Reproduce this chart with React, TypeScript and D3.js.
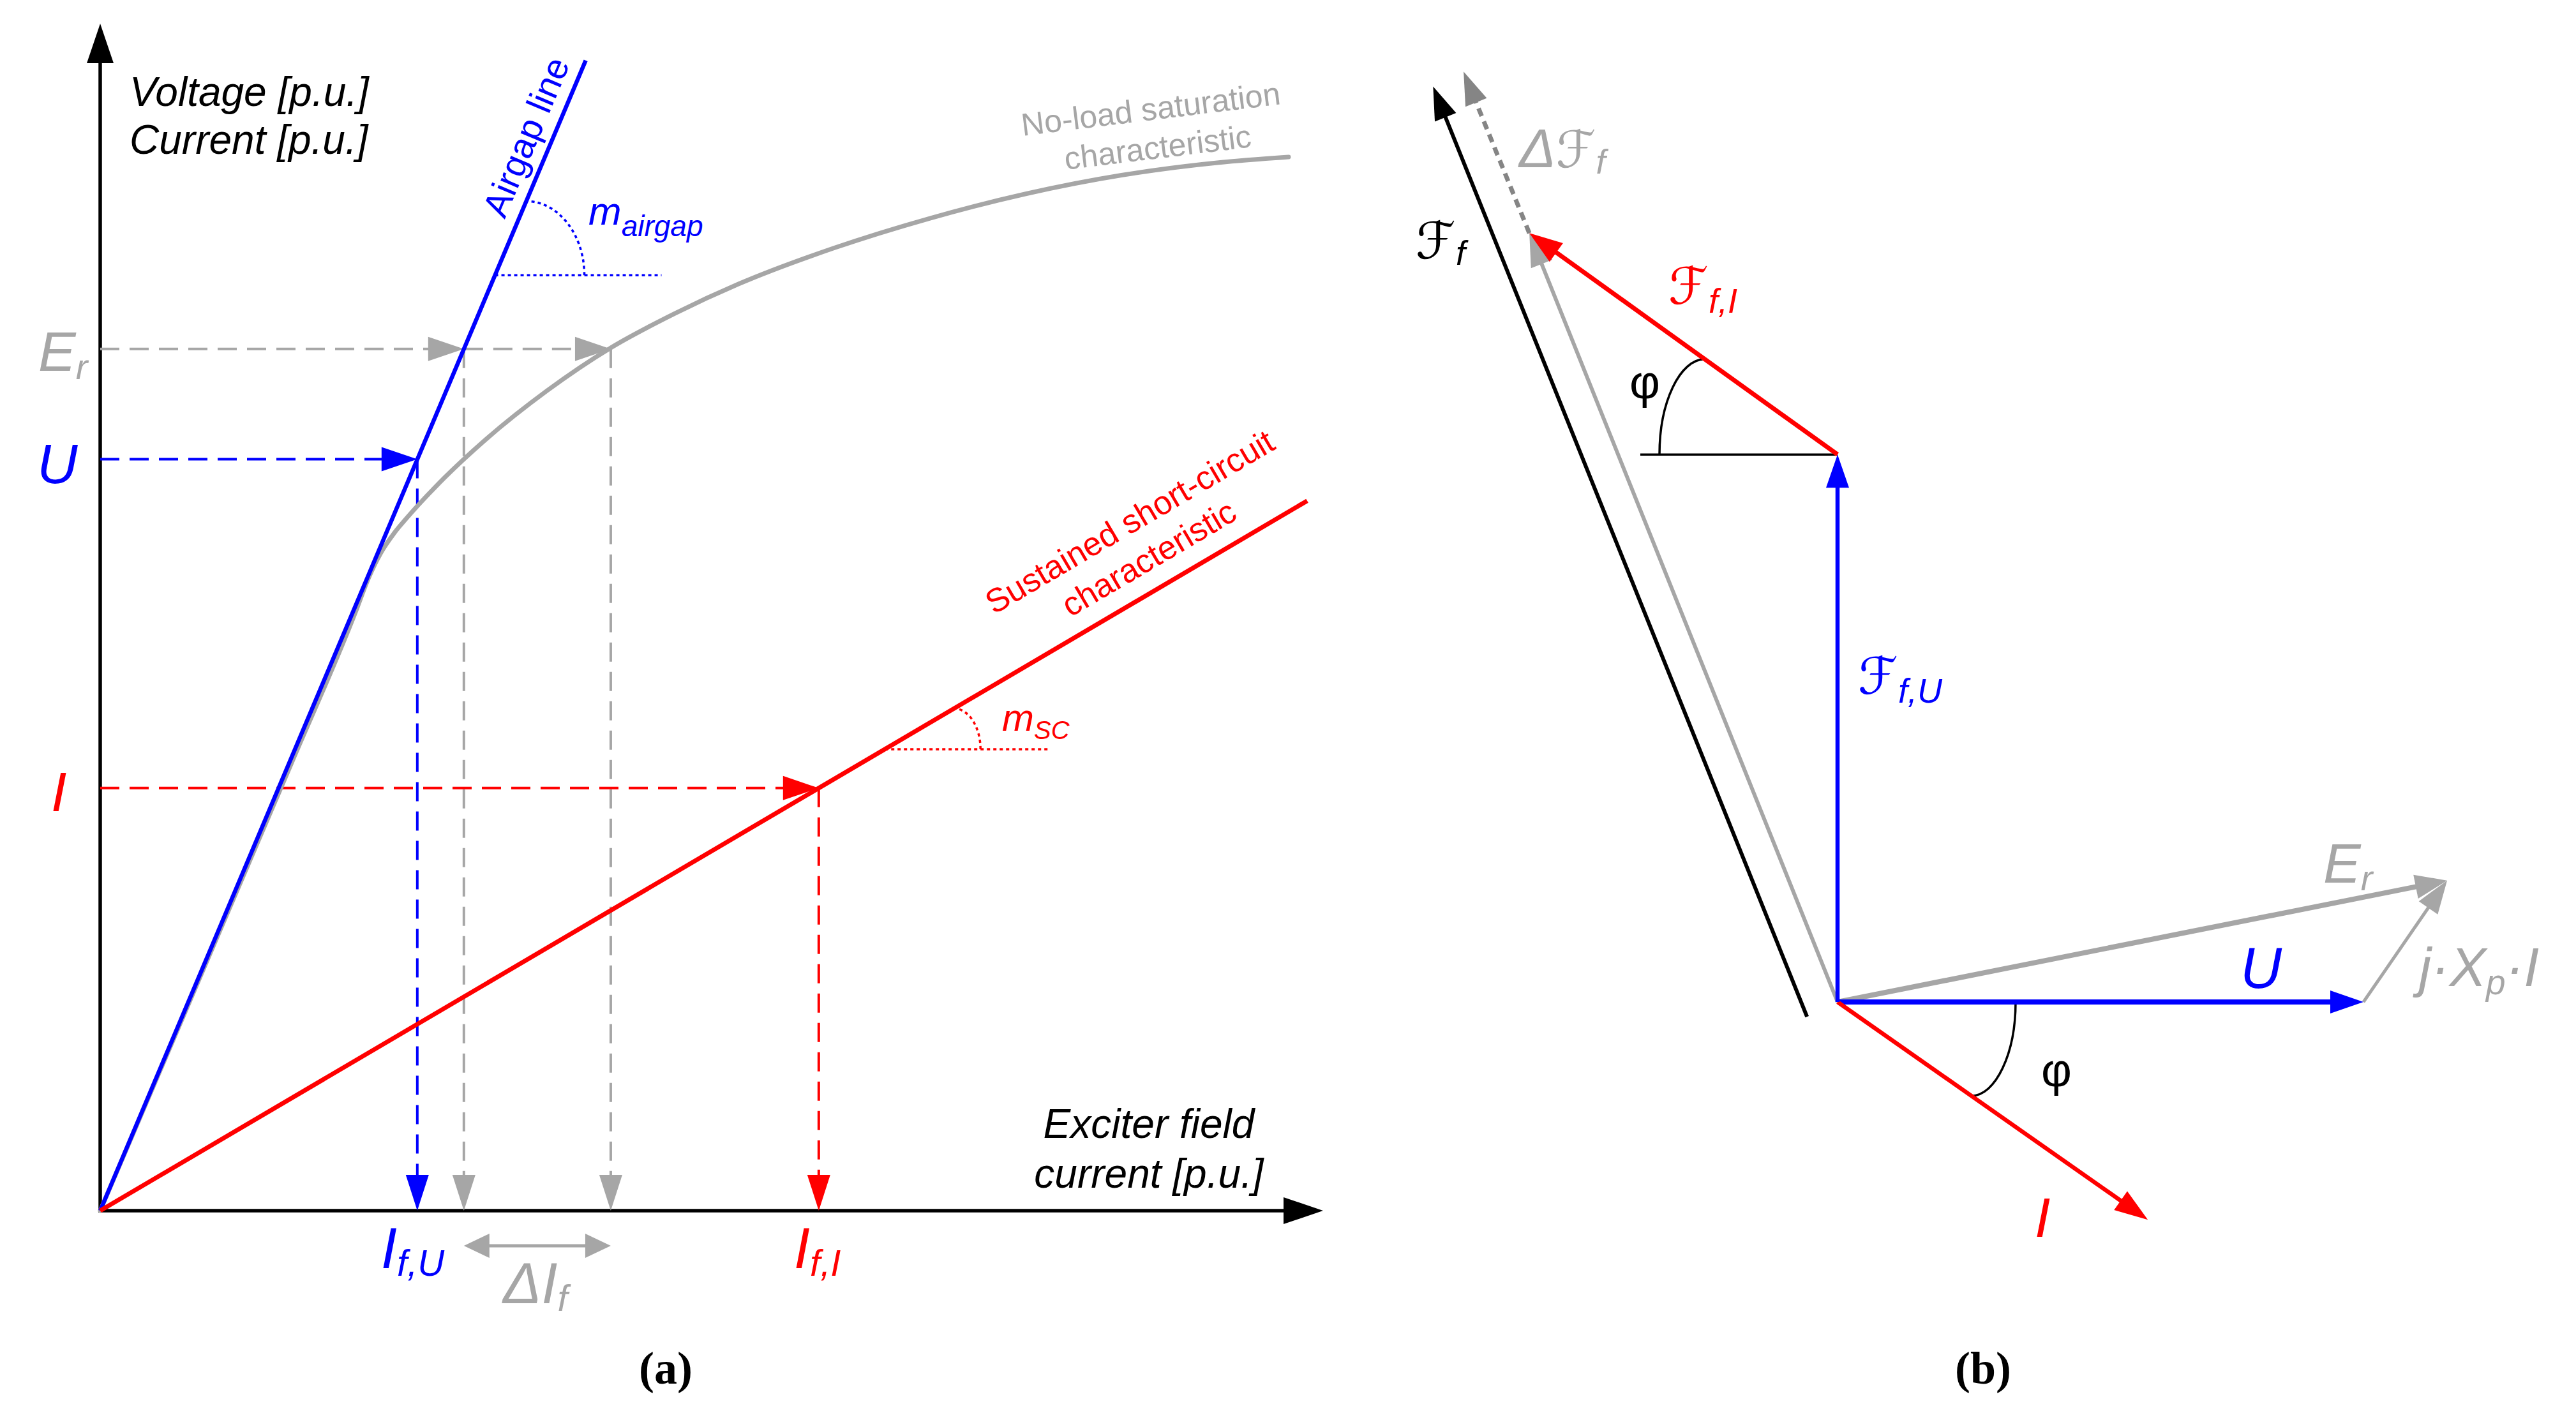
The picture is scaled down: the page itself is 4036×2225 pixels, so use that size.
import React, { useEffect } from "react";
import * as d3 from "d3";

const W = 4036;
const H = 2225;

// ---------------- Panel (a): characteristics (normalized per-unit axes) ----------------
const airgapLine: [number, number][] = [[0, 0], [0.397, 0.969]];
const shortCircuitLine: [number, number][] = [[0, 0], [0.987, 0.598]];
const noLoadCurve: [number, number][] = [
  [0, 0], [0.1566, 0.3774], [0.2088, 0.5043], [0.2192, 0.5323], [0.2296, 0.5543],
  [0.2401, 0.5704], [0.2505, 0.5833], [0.2818, 0.6177], [0.3132, 0.6478],
  [0.3653, 0.6907], [0.4175, 0.7269], [0.4697, 0.7557], [0.5219, 0.7806],
  [0.6002, 0.811], [0.6785, 0.836], [0.7568, 0.8566], [0.8351, 0.8723],
  [0.9134, 0.8828], [0.9718, 0.8876],
];
// ordinate levels: Er, U, I
const levelNames = ["Er", "U", "I"];
const levelValues = [0.726, 0.633, 0.356];
// abscissa readings: If,U ; Er on airgap ; Er on no-load ; If,I
const fieldCurrentNames = ["IfU", "ErAirgap", "ErNoLoad", "IfI"];
const fieldCurrentValues = [0.2593, 0.2974, 0.4175, 0.5876];
// slope marks: [level y, dotted end x]
const airgapSlopeMark = [0.788, 0.459];
const scSlopeMark = [0.3887, 0.777];

// ---------------- Panel (b): phasor diagram (units of |U|) ----------------
const phasorU = [1, 0];
const phasorI = [0.59, -0.414];
const phasorJXpI = [0.159, 0.231];
const phasorEr = [1.159, 0.231];
const phasorFfU = [0, 1.041];
const phasorFfI = [-0.586, 0.421];
const phasorDeltaFf = [-0.125, 0.307];
const phasorFfOffset = [-0.058, -0.028];
const refLineLength = [0.375];

const BLUE = "#0000FF";
const RED = "#FF0000";
const GREY = "#A6A6A6";
const DGREY = "#858585";
const FONT = "'Liberation Sans', Arial, sans-serif";
const SCRIPT = "'DejaVu Sans', sans-serif";

const xA = d3.scaleLinear().domain([0, 1]).range([157, 2073]);
const yA = d3.scaleLinear().domain([0, 1]).range([1897, 37]);
const xB = d3.scaleLinear().domain([0, 1]).range([2879, 3703]);
const yB = d3.scaleLinear().domain([0, 1]).range([1570, 746]);

function head(x1: number, y1: number, x2: number, y2: number, L: number, Wd: number) {
  const dx = x2 - x1, dy = y2 - y1;
  const len = Math.hypot(dx, dy);
  const ux = dx / len, uy = dy / len;
  const bx = x2 - ux * L, by = y2 - uy * L;
  const px = (-uy * Wd) / 2, py = (ux * Wd) / 2;
  return {
    points: `${x2},${y2} ${bx + px},${by + py} ${bx - px},${by - py}`,
    bx: bx + ux * 3,
    by: by + uy * 3,
  };
}

function Arrow(p: {
  x1: number; y1: number; x2: number; y2: number; color: string; width: number;
  L: number; Wd: number; dash?: string; headColor?: string;
}) {
  const h = head(p.x1, p.y1, p.x2, p.y2, p.L, p.Wd);
  return (
    <g>
      <line x1={p.x1} y1={p.y1} x2={h.bx} y2={h.by} stroke={p.color} strokeWidth={p.width}
        strokeDasharray={p.dash} />
      <polygon points={h.points} fill={p.headColor || p.color} />
    </g>
  );
}

function DoubleArrow(p: { x1: number; x2: number; y: number; color: string; width: number; L: number; Wd: number }) {
  const a = head(p.x2, p.y, p.x1, p.y, p.L, p.Wd);
  const b = head(p.x1, p.y, p.x2, p.y, p.L, p.Wd);
  return (
    <g>
      <line x1={a.bx} y1={p.y} x2={b.bx} y2={p.y} stroke={p.color} strokeWidth={p.width} />
      <polygon points={a.points} fill={p.color} />
      <polygon points={b.points} fill={p.color} />
    </g>
  );
}

// quarter-ellipse like angle arc: S has vertical tangent, E has horizontal tangent
function quarter(S: [number, number], E: [number, number]) {
  const k = 0.55;
  const p = d3.path();
  p.moveTo(S[0], S[1]);
  p.bezierCurveTo(S[0], S[1] + k * (E[1] - S[1]), E[0] + k * (S[0] - E[0]), E[1], E[0], E[1]);
  return p.toString();
}

function unit(dx: number, dy: number): [number, number] {
  const l = Math.hypot(dx, dy);
  return [dx / l, dy / l];
}

export default function App() {
  useEffect(() => {
    document.body.style.margin = "0";
  }, []);

  // ---------- panel a geometry ----------
  const x0 = xA(0), y0 = yA(0);
  const lineGen = d3.line<[number, number]>().x((d) => xA(d[0])).y((d) => yA(d[1]));
  const curveGen = d3.line<[number, number]>().x((d) => xA(d[0])).y((d) => yA(d[1])).curve(d3.curveMonotoneX);

  const [lvEr, lvU, lvI] = levelValues;
  const [fIfU, fErA, fErS, fIfI] = fieldCurrentValues;
  const dashA = "30 16";

  const agSlope = airgapLine[1][1] / airgapLine[1][0];
  const scSlope = shortCircuitLine[1][1] / shortCircuitLine[1][0];
  const agC: [number, number] = [xA(airgapSlopeMark[0] / agSlope), yA(airgapSlopeMark[0])];
  const agDir = unit(xA(airgapLine[1][0]) - x0, yA(airgapLine[1][1]) - y0);
  const scC: [number, number] = [xA(scSlopeMark[0] / scSlope), yA(scSlopeMark[0])];
  const scDir = unit(xA(shortCircuitLine[1][0]) - x0, yA(shortCircuitLine[1][1]) - y0);

  // ---------- panel b geometry ----------
  const O: [number, number] = [xB(0), yB(0)];
  const U: [number, number] = [xB(phasorU[0]), yB(phasorU[1])];
  const I: [number, number] = [xB(phasorI[0]), yB(phasorI[1])];
  const Er: [number, number] = [xB(phasorEr[0]), yB(phasorEr[1])];
  const JX: [number, number] = [xB(phasorU[0] + phasorJXpI[0]), yB(phasorU[1] + phasorJXpI[1])];
  const FU: [number, number] = [xB(phasorFfU[0]), yB(phasorFfU[1])];
  const FR: [number, number] = [xB(phasorFfU[0] + phasorFfI[0]), yB(phasorFfU[1] + phasorFfI[1])];
  const FT = [phasorFfU[0] + phasorFfI[0] + phasorDeltaFf[0], phasorFfU[1] + phasorFfI[1] + phasorDeltaFf[1]];
  const FTp: [number, number] = [xB(FT[0]), yB(FT[1])];
  const BS: [number, number] = [xB(phasorFfOffset[0]), yB(phasorFfOffset[1])];
  const BE: [number, number] = [xB(phasorFfOffset[0] + FT[0]), yB(phasorFfOffset[1] + FT[1])];
  const refEnd: [number, number] = [xB(-refLineLength[0]), FU[1]];

  const fiDir = unit(FR[0] - FU[0], FR[1] - FU[1]);
  const iDir = unit(I[0] - O[0], I[1] - O[1]);
  const topArc = quarter([FU[0] - 279, FU[1]], [FU[0] + fiDir[0] * 256, FU[1] + fiDir[1] * 256]);
  const botArc = quarter([O[0] + 279, O[1]], [O[0] + iDir[0] * 256, O[1] + iDir[1] * 256]);

  const Lb = 52, Wb = 36;

  return (
    <div style={{ position: "absolute", left: 0, top: 0 }}>
      <svg width={W} height={H} style={{ display: "block", background: "#fff" }} fontFamily={FONT}>
        <rect x={0} y={0} width={W} height={H} fill="#fff" />

        {/* ================= Panel (a) ================= */}
        <Arrow x1={x0} y1={y0 + 3} x2={x0} y2={yA(1)} color="#000" width={5.5} L={62} Wd={42} />
        <Arrow x1={x0 - 3} y1={y0} x2={xA(1)} y2={y0} color="#000" width={5.5} L={62} Wd={42} />

        <Arrow x1={x0} y1={yA(lvEr)} x2={xA(fErA)} y2={yA(lvEr)} color={GREY} width={4} L={56} Wd={38} dash={dashA} />
        <Arrow x1={xA(fErA)} y1={yA(lvEr)} x2={xA(fErS)} y2={yA(lvEr)} color={GREY} width={4} L={56} Wd={38} dash={dashA} />
        <Arrow x1={xA(fErA)} y1={yA(lvEr)} x2={xA(fErA)} y2={y0} color={GREY} width={4} L={56} Wd={36} dash={dashA} />
        <Arrow x1={xA(fErS)} y1={yA(lvEr)} x2={xA(fErS)} y2={y0} color={GREY} width={4} L={56} Wd={36} dash={dashA} />
        <Arrow x1={x0} y1={yA(lvU)} x2={xA(fIfU)} y2={yA(lvU)} color={BLUE} width={4} L={56} Wd={38} dash={dashA} />
        <Arrow x1={xA(fIfU)} y1={yA(lvU)} x2={xA(fIfU)} y2={y0} color={BLUE} width={4} L={56} Wd={36} dash={dashA} />
        <Arrow x1={x0} y1={yA(lvI)} x2={xA(fIfI)} y2={yA(lvI)} color={RED} width={4} L={56} Wd={38} dash={dashA} />
        <Arrow x1={xA(fIfI)} y1={yA(lvI)} x2={xA(fIfI)} y2={y0} color={RED} width={4} L={56} Wd={36} dash={dashA} />

        <path d={curveGen(noLoadCurve) || ""} fill="none" stroke={GREY} strokeWidth={7} strokeLinecap="round" />
        <path d={lineGen(airgapLine) || ""} fill="none" stroke={BLUE} strokeWidth={6.5} />
        <path d={lineGen(shortCircuitLine) || ""} fill="none" stroke={RED} strokeWidth={7} />

        <line x1={agC[0]} y1={agC[1]} x2={xA(airgapSlopeMark[1])} y2={agC[1]} stroke={BLUE} strokeWidth={3.5} strokeDasharray="5 5" />
        <path d={quarter([agC[0] + 140, agC[1]], [agC[0] + agDir[0] * 126, agC[1] + agDir[1] * 126])} fill="none" stroke={BLUE} strokeWidth={3.5} strokeDasharray="5 5" />
        <line x1={scC[0]} y1={scC[1]} x2={xA(scSlopeMark[1])} y2={scC[1]} stroke={RED} strokeWidth={3.5} strokeDasharray="5 5" />
        <path d={quarter([scC[0] + 150, scC[1]], [scC[0] + scDir[0] * 126, scC[1] + scDir[1] * 126])} fill="none" stroke={RED} strokeWidth={3.5} strokeDasharray="5 5" />

        <DoubleArrow x1={xA(fErA)} x2={xA(fErS)} y={1952} color={GREY} width={5} L={40} Wd={38} />

        <text x={203} y={166} fontSize={64} fontStyle="italic" fill="#000">Voltage [p.u.]</text>
        <text x={203} y={241} fontSize={64} fontStyle="italic" fill="#000">Current [p.u.]</text>
        <text transform="translate(842,222) rotate(-67.2)" textAnchor="middle" fontSize={56} fill={BLUE}>Airgap line</text>
        <text x={922} y={352} fontSize={62} fontStyle="italic" fill={BLUE}>m<tspan fontSize={46} dy={18}>airgap</tspan></text>
        <text transform="translate(1805,188) rotate(-7)" textAnchor="middle" fontSize={50} fill={GREY}>No-load saturation</text>
        <text transform="translate(1816,248) rotate(-7)" textAnchor="middle" fontSize={50} fill={GREY}>characteristic</text>
        <text transform="translate(1779,833) rotate(-30.5)" textAnchor="middle" fontSize={52} fill={RED}>Sustained short-circuit</text>
        <text transform="translate(1809,890) rotate(-30.5)" textAnchor="middle" fontSize={52} fill={RED}>characteristic</text>
        <text x={1570} y={1145} fontSize={60} fontStyle="italic" fill={RED}>m<tspan fontSize={40} dy={13}>SC</tspan></text>

        <text x={60} y={581} fontSize={88} fontStyle="italic" fill={GREY}>E<tspan fontSize={56} dy={13}>r</tspan></text>
        <text x={58} y={757} fontSize={88} fontStyle="italic" fill={BLUE}>U</text>
        <text x={80} y={1271} fontSize={88} fontStyle="italic" fill={RED}>I</text>

        <text x={597} y={1987} fontSize={90} fontStyle="italic" fill={BLUE}>I<tspan fontSize={58} dy={12}>f,U</tspan></text>
        <text x={1244} y={1987} fontSize={90} fontStyle="italic" fill={RED}>I<tspan fontSize={58} dy={12}>f,I</tspan></text>
        <text x={788} y={2042} fontSize={90} fontStyle="italic" fill={GREY}>ΔI<tspan fontSize={58} dy={12}>f</tspan></text>

        <text x={1800} y={1783} textAnchor="middle" fontSize={64} fontStyle="italic" fill="#000">Exciter field</text>
        <text x={1800} y={1861} textAnchor="middle" fontSize={64} fontStyle="italic" fill="#000">current [p.u.]</text>

        <text x={1043} y={2168} textAnchor="middle" fontSize={72} fontWeight="bold" fontFamily="'Liberation Serif', 'Times New Roman', serif" fill="#000">(a)</text>

        {/* ================= Panel (b) ================= */}
        <line x1={refEnd[0]} y1={FU[1]} x2={FU[0]} y2={FU[1]} stroke="#000" strokeWidth={3.5} />
        <path d={topArc} fill="none" stroke="#000" strokeWidth={3.5} />
        <path d={botArc} fill="none" stroke="#000" strokeWidth={3.5} />

        <Arrow x1={BS[0]} y1={BS[1]} x2={BE[0]} y2={BE[1]} color="#000" width={6} L={Lb} Wd={Wb} />
        <Arrow x1={FR[0]} y1={FR[1]} x2={FTp[0]} y2={FTp[1]} color={DGREY} width={7} L={Lb} Wd={Wb} dash="13 9" />
        <Arrow x1={O[0]} y1={O[1]} x2={FR[0]} y2={FR[1]} color={GREY} width={6} L={Lb} Wd={Wb} />
        <Arrow x1={O[0]} y1={O[1]} x2={Er[0]} y2={Er[1]} color={GREY} width={8} L={50} Wd={38} />
        <Arrow x1={U[0]} y1={U[1]} x2={JX[0]} y2={JX[1]} color={GREY} width={5} L={Lb} Wd={Wb} />
        <Arrow x1={O[0]} y1={O[1]} x2={U[0]} y2={U[1]} color={BLUE} width={8} L={Lb} Wd={Wb} />
        <Arrow x1={O[0]} y1={O[1]} x2={I[0]} y2={I[1]} color={RED} width={6.5} L={Lb} Wd={Wb} />
        <Arrow x1={O[0]} y1={O[1]} x2={FU[0]} y2={FU[1]} color={BLUE} width={6.5} L={Lb} Wd={Wb} />
        <Arrow x1={FU[0]} y1={FU[1]} x2={FR[0]} y2={FR[1]} color={RED} width={7} L={Lb} Wd={Wb} />

        <text x={2380} y={262} fontSize={86} fontStyle="italic" fill={GREY}>Δ<tspan fontFamily={SCRIPT} fontStyle="normal" fontSize={80}>ℱ</tspan><tspan fontSize={54} dy={10}>f</tspan></text>
        <text x={2218} y={405} fontSize={80} fill="#000"><tspan fontFamily={SCRIPT}>ℱ</tspan><tspan fontSize={54} dy={10} fontStyle="italic">f</tspan></text>
        <text x={2614} y={476} fontSize={80} fill={RED}><tspan fontFamily={SCRIPT}>ℱ</tspan><tspan fontSize={54} dy={14} fontStyle="italic">f,I</tspan></text>
        <text x={2911} y={1087} fontSize={80} fill={BLUE}><tspan fontFamily={SCRIPT}>ℱ</tspan><tspan fontSize={54} dy={14} fontStyle="italic">f,U</tspan></text>

        <text x={2577} y={624} textAnchor="middle" fontSize={74} fill="#000">φ</text>
        <text x={3222} y={1702} textAnchor="middle" fontSize={74} fill="#000">φ</text>

        <text x={3188} y={1938} fontSize={88} fontStyle="italic" fill={RED}>I</text>
        <text x={3510} y={1548} fontSize={90} fontStyle="italic" fill={BLUE}>U</text>
        <text x={3640} y={1383} fontSize={88} fontStyle="italic" fill={GREY}>E<tspan fontSize={56} dy={12}>r</tspan></text>
        <text x={3790} y={1545} fontSize={86} fontStyle="italic" fill={GREY}>j·X<tspan fontSize={55} dy={13}>p</tspan><tspan dy={-13}>·I</tspan></text>

        <text x={3107} y={2168} textAnchor="middle" fontSize={72} fontWeight="bold" fontFamily="'Liberation Serif', 'Times New Roman', serif" fill="#000">(b)</text>
      </svg>
    </div>
  );
}
